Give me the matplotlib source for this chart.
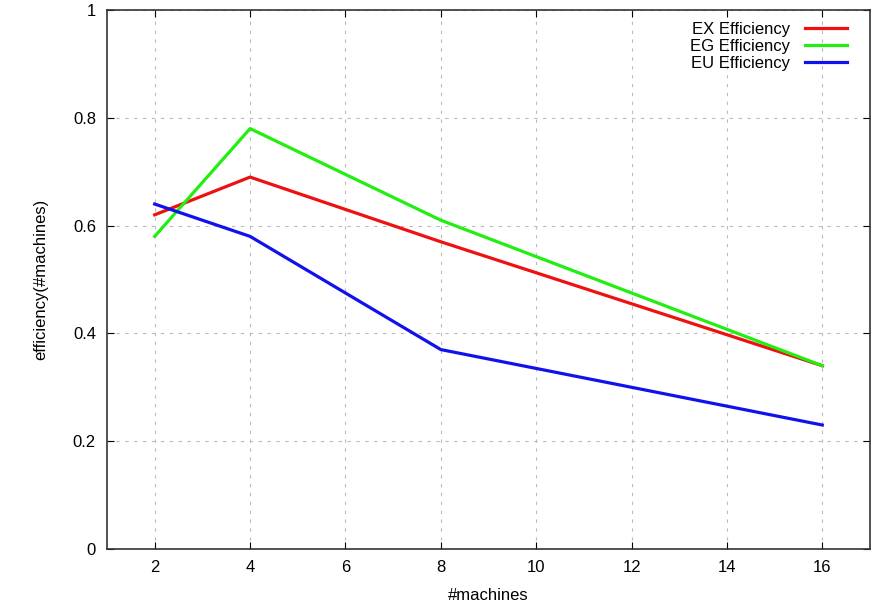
import matplotlib
matplotlib.use("Agg")
import matplotlib.pyplot as plt

machines = [2, 4, 8, 16]
ex_eff = [0.62, 0.69, 0.57, 0.34]
eg_eff = [0.58, 0.78, 0.61, 0.34]
eu_eff = [0.64, 0.58, 0.37, 0.23]
xticks = [2, 4, 6, 8, 10, 12, 14, 16]
yticks = [0, 0.2, 0.4, 0.6, 0.8, 1]
ytick_labels = ["0", "0.2", "0.4", "0.6", "0.8", "1"]

plt.rcParams['font.family'] = ['Liberation Sans', 'DejaVu Sans']

fig = plt.figure(figsize=(8.8, 6.07), dpi=100)
ax = fig.add_axes([107/880, 1 - 549/607, (870-107)/880, (549-10)/607])

ax.plot(machines, ex_eff, color='#ee1111', lw=2.3, label='EX Efficiency')
ax.plot(machines, eg_eff, color='#22ee11', lw=2.3, label='EG Efficiency')
ax.plot(machines, eu_eff, color='#1111ee', lw=2.3, label='EU Efficiency')

ax.set_xlim(1, 17)
ax.set_ylim(0, 1)
ax.set_xticks(xticks)
ax.set_yticks(yticks)
ax.set_yticklabels(ytick_labels)
ax.grid(True, color='#bbbbbb', linestyle=(0, (3, 5)), lw=0.8)
ax.tick_params(direction='in', top=True, right=True, length=5, labelsize=12, pad=8)
for s in ax.spines.values():
    s.set_linewidth(1.2)
    s.set_color('#333333')

ax.set_xlabel('#machines', fontsize=12, labelpad=9)
ax.set_ylabel('efficiency(#machines)', fontsize=12, labelpad=18)

leg = ax.legend(loc='upper right', frameon=False, markerfirst=False, fontsize=12,
                handlelength=2.5, handletextpad=0.9, borderaxespad=0.3, labelspacing=0.12,
                bbox_to_anchor=(0.985, 1.0))

fig.savefig('out.png', dpi=100)
